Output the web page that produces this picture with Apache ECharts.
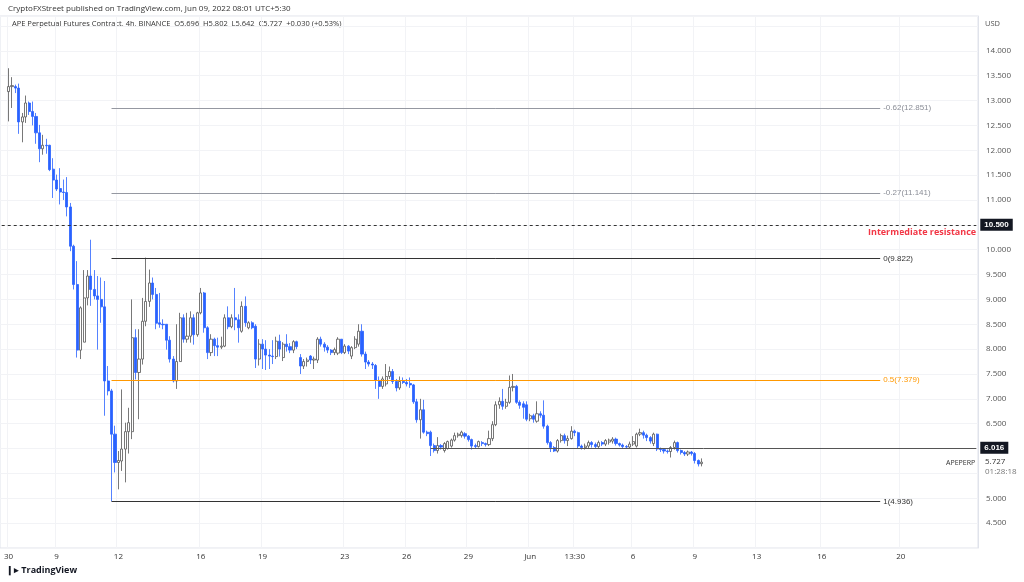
<!DOCTYPE html>
<html>
<head>
<meta charset="utf-8">
<script src="https://cdn.jsdelivr.net/npm/echarts@6/dist/echarts.min.js"></script>
<style>
  html, body { margin: 0; padding: 0; background: #fff; }
  #main { width: 1024px; height: 582px; }
</style>
</head>
<body>
<div id="main"></div>
<script>
// candles [open, close, low, high], 4h bars
var candles = [
  [13.18,13.28,12.58,13.65],[13.28,13.30,12.85,13.47],[13.28,13.25,13.15,13.32],[13.25,12.57,12.33,13.34],
  [12.57,12.67,12.16,12.75],[12.67,12.95,12.55,13.10],[12.95,12.78,12.71,12.98],[12.78,12.68,12.50,12.98],
  [12.68,12.35,12.13,12.75],[12.35,12.03,11.76,12.51],[12.03,12.10,11.91,12.31],[12.10,12.09,11.93,12.23],
  [12.10,11.61,11.58,12.11],[11.62,11.40,11.04,11.84],[11.40,11.22,11.18,11.51],[11.23,11.16,10.91,11.64],
  [11.16,11.15,11.00,11.41],[11.15,10.86,10.67,11.46],[10.86,10.07,9.97,10.94],[10.07,9.30,9.20,10.10],
  [9.30,7.98,7.83,9.77],[7.98,8.83,7.80,8.86],[8.14,9.03,8.14,9.59],[9.03,9.47,8.88,9.59],
  [9.47,9.20,8.87,10.20],[9.20,9.07,9.00,9.59],[9.07,9.00,7.99,9.47],[9.00,8.85,8.53,9.44],
  [8.85,7.36,6.66,9.37],[7.36,7.16,7.07,7.66],[7.16,6.29,4.94,7.20],[6.29,5.72,5.52,6.46],
  [5.72,5.76,5.18,5.95],
  [5.75,5.99,5.55,7.19],[5.99,6.34,5.32,6.52],[6.34,6.52,5.90,6.82],[6.34,8.23,6.19,9.00],
  [8.23,7.53,7.39,8.40],[7.53,7.80,6.59,8.40],[7.80,8.56,7.69,9.03],[8.56,8.96,8.46,9.84],
  [8.96,9.33,8.85,9.60],[9.33,9.10,9.00,9.44],[9.10,8.52,8.40,9.23],[8.53,8.50,8.43,9.13],
  [8.50,8.49,8.40,8.60],[8.50,8.18,7.99,8.50],[8.18,7.80,7.73,8.26],[7.80,7.36,7.33,7.86],
  [7.36,7.75,7.20,8.50],[7.75,8.63,7.75,8.73],[8.63,8.20,8.13,8.70],[8.20,8.26,8.13,8.73],
  [8.26,8.63,8.13,8.76],[8.63,8.29,8.09,8.70],[8.29,8.73,8.25,8.75],[8.73,9.13,8.70,9.23],
  [9.13,8.43,8.33,9.15],[8.43,7.93,7.80,8.46],[7.93,8.20,7.86,8.30],[8.20,8.07,7.86,8.23],
  [8.07,8.04,7.86,8.23],[8.04,8.06,8.00,8.25],[8.06,8.63,8.04,8.70],[8.63,8.45,8.40,8.86],
  [8.45,8.63,8.42,8.70],[8.63,8.59,8.38,9.23],[8.59,8.43,8.13,8.70],[8.36,8.86,8.33,8.96],
  [8.86,8.53,8.45,9.06],[8.43,8.53,8.40,8.56],[8.53,8.43,8.40,8.56],[8.46,7.80,7.62,8.50],
  [7.80,8.10,7.67,8.20],[8.10,8.00,7.60,8.20],[8.00,7.88,7.58,8.18],[7.88,7.86,7.60,8.00],
  [7.86,7.85,7.70,8.18],[7.85,8.16,7.80,8.25],[8.16,8.00,7.85,8.29],[7.83,8.10,7.76,8.14],
  [8.10,8.05,7.95,8.30],[8.05,7.98,7.92,8.12],[7.98,8.15,7.92,8.18],[8.15,8.05,8.00,8.17],
  [7.83,7.66,7.50,7.90],[7.66,7.75,7.60,7.80],[7.75,7.78,7.65,7.83],[7.86,7.78,7.70,7.88],
  [7.78,7.80,7.60,7.85],[7.78,8.20,7.72,8.24],[8.20,8.10,8.05,8.25],[8.10,8.04,7.95,8.14],
  [8.04,7.98,7.92,8.08],[7.98,7.93,7.88,8.00],[7.93,7.99,7.88,8.03],[7.92,8.20,7.88,8.24],
  [8.20,7.93,7.90,8.20],[7.93,8.06,7.90,8.10],[8.06,7.96,7.90,8.08],[7.86,8.03,7.80,8.06],
  [8.03,8.20,8.00,8.26],[8.10,8.36,8.05,8.50],[8.36,7.90,7.85,8.50],[7.90,7.74,7.60,7.95],
  [7.74,7.70,7.65,7.78],[7.70,7.68,7.60,7.74],[7.67,7.37,7.20,7.70],[7.37,7.25,7.00,7.45],
  [7.25,7.40,7.20,7.45],[7.30,7.45,7.25,7.70],[7.45,7.55,7.40,7.65],[7.55,7.35,7.30,7.60],
  [7.35,7.22,7.15,7.40],[7.22,7.35,7.18,7.45],[7.35,7.33,7.30,7.43],[7.33,7.30,7.25,7.40],
  [7.31,7.28,7.22,7.43],[7.28,6.94,6.90,7.30],[6.94,6.58,6.52,7.00],[6.58,6.78,6.20,7.00],
  [6.78,6.33,6.30,6.98],[6.33,6.30,6.25,6.36],[6.33,6.06,5.85,6.36],[6.06,5.96,5.92,6.10],
  [5.96,6.06,5.90,6.23],[6.06,6.03,5.98,6.09],[5.96,6.10,5.92,6.13],[6.00,6.14,5.98,6.16],
  [6.05,6.17,6.02,6.20],[6.17,6.26,6.14,6.32],[6.26,6.29,6.22,6.32],[6.26,6.33,6.22,6.36],
  [6.30,6.25,6.20,6.33],[6.25,6.18,6.14,6.27],[6.18,6.05,5.98,6.20],[6.06,6.04,6.00,6.10],
  [6.04,6.14,6.02,6.16],[6.12,6.10,6.05,6.15],[6.10,6.08,6.04,6.12],[6.08,6.20,6.05,6.36],
  [6.20,6.48,6.15,6.55],[6.48,6.88,6.45,6.95],
  [6.88,6.95,6.80,7.03],[6.95,6.85,6.78,7.20],[6.85,6.93,6.80,7.00],[6.93,7.23,6.90,7.47],
  [7.23,7.25,7.15,7.50],[7.25,6.93,6.90,7.28],[6.93,6.87,6.80,6.97],[6.90,6.83,6.60,6.95],
  [6.88,6.59,6.55,6.95],[6.60,6.66,6.55,6.70],[6.66,6.59,6.52,6.70],[6.55,6.70,6.52,6.95],
  [6.70,6.67,6.62,6.75],[6.67,6.45,6.40,6.97],[6.45,6.12,6.08,6.48],[6.12,6.02,5.93,6.15],
  [6.02,5.95,5.93,6.05],[5.95,6.16,5.92,6.19],[6.16,6.26,6.12,6.30],[6.26,6.16,6.10,6.30],
  [6.16,6.20,6.05,6.26],[6.20,6.35,6.18,6.45],[6.35,6.32,6.25,6.38],[6.32,6.05,6.00,6.34],
  [6.05,6.02,5.98,6.08],[6.02,6.05,5.98,6.10],[6.05,6.12,6.00,6.16],[6.12,6.08,6.02,6.15],
  [6.08,6.04,6.00,6.12],[6.04,6.12,6.00,6.16],[6.12,6.09,6.05,6.15],[6.09,6.16,6.05,6.19],
  [6.13,6.17,6.08,6.20],[6.15,6.19,6.10,6.23],[6.19,6.10,6.06,6.22],[6.10,6.07,6.04,6.12],
  [6.07,6.04,6.00,6.10],[6.04,6.03,6.00,6.07],[6.03,6.09,6.00,6.14],[6.09,6.14,6.05,6.25],
  [6.05,6.29,6.02,6.32],[6.29,6.32,6.25,6.40],[6.32,6.27,6.20,6.36],[6.27,6.22,6.15,6.30],
  [6.22,6.15,6.10,6.25],[6.10,6.29,6.05,6.32],[6.29,5.99,5.95,6.30],[5.99,5.98,5.93,6.02],
  [5.98,5.95,5.90,6.00],[5.95,5.94,5.90,5.98],[5.94,6.02,5.82,6.05],[6.02,6.12,5.98,6.16],
  [6.12,5.96,5.92,6.14],[5.96,5.92,5.88,5.98],[5.92,5.89,5.85,5.95],[5.89,5.93,5.85,5.96],
  [5.93,5.90,5.86,5.95],[5.90,5.76,5.70,5.93],[5.76,5.69,5.64,5.78],[5.696,5.727,5.642,5.802]
];
var leadSlots = 2, totalSlots = 285;
var tickIdx    = [2, 16, 34, 58, 76, 100, 118, 136, 154, 167, 184, 202, 220, 239, 262];
var tickLabels = ['30','9','12','16','19','23','26','29','Jun','13:30','6','9','13','16','20'];
var hiddenPriceLabels = [14.5, 5.5];
var fibLevels  = [12.851, 11.141, 9.822, 7.379, 4.936];
var fibNames   = ['-0.62', '-0.27', '0', '0.5', '1'];
var fibColors  = ['#9598a1', '#9598a1', '#333', '#ff9800', '#333'];
var fibStart = 32, fibEnd = 256;
var resistance = 10.5;
var support = 6.016, supportStart = 125;
var lastPrice = 5.727;

var cats = [], data = [];
for (var i = 0; i < totalSlots; i++) {
    cats.push(i);
    var c = candles[i - leadSlots];
    data.push(c ? c : '-');
}

var lines = [];
fibLevels.forEach(function (v, k) {
    lines.push([
        { coord: [fibStart, v], lineStyle: { color: fibColors[k], width: 1, type: 'solid' },
          label: { show: true, position: 'end', formatter: fibNames[k] + '(' + v.toFixed(3) + ')',
                   color: fibColors[k] === '#333' ? '#333' : (k == 3 ? '#ff9800' : '#8a8d96'), fontSize: 8, distance: 3 } },
        { coord: [fibEnd, v] }
    ]);
});
lines.push([
    { coord: [0, resistance], lineStyle: { color: '#333', width: 1, type: [3, 3] },
      label: { show: true, position: 'end', formatter: resistance.toFixed(3), color: '#fff', backgroundColor: '#131722',
               fontSize: 8, padding: [2, 4, 2, 4], distance: 4, fontWeight: 'bold' } },
    { coord: [totalSlots - 1, resistance] }
]);
lines.push([
    { coord: [supportStart, support], lineStyle: { color: '#555', width: 1, type: 'solid' },
      label: { show: true, position: 'end', formatter: support.toFixed(3), color: '#fff', backgroundColor: '#131722',
               fontSize: 8, padding: [2, 4, 2, 4], distance: 4, fontWeight: 'bold' } },
    { coord: [totalSlots - 1, support] }
]);

var myChart = echarts.init(document.getElementById('main'));
var option = {
    animation: false,
    backgroundColor: '#fff',
    grid: { left: 0, right: 46, top: 16, bottom: 34, show: true, borderColor: '#e0e3eb', borderWidth: 1 },
    xAxis: {
        type: 'category',
        data: cats,
        axisLine: { show: false },
        axisTick: { show: false },
        axisLabel: {
            interval: function (i) { return tickIdx.indexOf(i) >= 0; },
            formatter: function (v, i) { var k = tickIdx.indexOf(i); return k >= 0 ? tickLabels[k] : ''; },
            color: '#333', fontSize: 8, margin: 5, fontFamily: 'Open Sans'
        },
        splitLine: { show: true, interval: function (i) { return tickIdx.indexOf(i) >= 0; },
                     lineStyle: { color: '#f2f3f6', width: 1 } }
    },
    yAxis: {
        type: 'value',
        position: 'right',
        min: 4.0, max: 14.7, interval: 0.5,
        axisLine: { show: true, lineStyle: { color: '#e0e3eb' } },
        axisTick: { show: false },
        axisLabel: {
            formatter: function (v) { return hiddenPriceLabels.indexOf(v) >= 0 ? '' : v.toFixed(3); },
            color: '#555', fontSize: 8, margin: 8, showMinLabel: false, showMaxLabel: false, fontFamily: 'Open Sans'
        },
        splitLine: { lineStyle: { color: '#f2f3f6' } }
    },
    series: [{
        type: 'candlestick',
        data: data,
        barWidth: 2.6,
        itemStyle: { color: '#ffffff', color0: '#2962ff', borderColor: '#555', borderColor0: '#2962ff', borderWidth: 0.8 },
        markLine: { symbol: 'none', silent: true, data: lines }
    }],
    graphic: [
        { type: 'text', left: 8, top: 5, style: { text: 'CryptoFXStreet published on TradingView.com, Jun 09, 2022 08:01 UTC+5:30', fill: '#333', fontSize: 8, fontFamily: 'Open Sans' } },
        { type: 'text', left: 12, top: 20, style: { text: 'APE Perpetual Futures Contract, 4h, BINANCE  O5.696  H5.802  L5.642  C5.727  +0.030 (+0.53%)', fill: '#333', fontSize: 7.5, fontFamily: 'Open Sans' } },
        { type: 'text', left: 985, top: 20, style: { text: 'USD', fill: '#555', fontSize: 7.5, fontFamily: 'Open Sans' } },
        { type: 'text', left: 868, top: 228, style: { text: 'Intermediate resistance', fill: '#f23645', fontSize: 9, fontWeight: 'bold', fontFamily: 'Open Sans' } },
        { type: 'text', left: 946, top: 459, style: { text: 'APEPERP', fill: '#333', fontSize: 7, fontFamily: 'Open Sans' } },
        { type: 'text', left: 985, top: 458, style: { text: lastPrice.toFixed(3), fill: '#333', fontSize: 8, fontFamily: 'Open Sans' } },
        { type: 'text', left: 985, top: 468, style: { text: '01:28:18', fill: '#777', fontSize: 8, fontFamily: 'Open Sans' } },
        { type: 'text', left: 6, top: 566, style: { text: '\u2759\u25B8 TradingView', fill: '#131722', fontSize: 9, fontWeight: 'bold', fontFamily: 'Open Sans' } }
    ]
};
myChart.setOption(option);
</script>
</body>
</html>
